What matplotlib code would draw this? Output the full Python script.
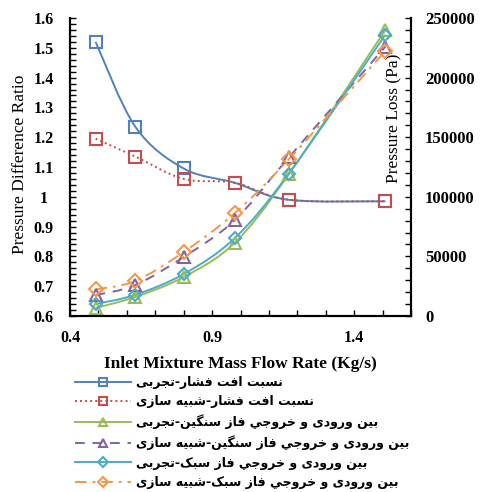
import matplotlib
matplotlib.use('Agg')
import matplotlib.pyplot as plt
import numpy as np
from matplotlib.path import Path
from matplotlib.patches import PathPatch
from matplotlib.lines import Line2D
from matplotlib.ticker import MultipleLocator, FixedLocator, FuncFormatter

# Data
flow = [0.49, 0.63, 0.80, 0.98, 1.17, 1.51]
ratio_exp = [1.52, 1.235, 1.095, 1.047, 0.99, 0.985]
ratio_sim = [1.195, 1.135, 1.06, 1.047, 0.99, 0.985]
heavy_exp = [6700, 16000, 32700, 61500, 119000, 240000]
heavy_sim = [17500, 26000, 49500, 80500, 133000, 226000]
light_exp = [10000, 17800, 35200, 65400, 119500, 236000]
light_sim = [22300, 29400, 53700, 86400, 131500, 222500]

ratio_ticks = [0.6, 0.7, 0.8, 0.9, 1.0, 1.1, 1.2, 1.3, 1.4, 1.5, 1.6]
flow_ticks = [0.4, 0.9, 1.4]

labels = ['نسبت افت فشار-تجربی',
          'نسبت افت فشار-شبیه سازی',
          'بین ورودی و خروجي فاز سنگین-تجربی',
          'بین ورودی و خروجي فاز سنگین-شبیه سازی',
          'بین ورودی و خروجي فاز سبک-تجربی',
          'بین ورودی و خروجي فاز سبک-شبیه سازی']

# presentation forms: isolated, final, initial, medial
FORMS = {
    'ا': ('\uFE8D', '\uFE8E', None, None),
    'ب': ('\uFE8F', '\uFE90', '\uFE91', '\uFE92'),
    'ت': ('\uFE95', '\uFE96', '\uFE97', '\uFE98'),
    'ج': ('\uFE9D', '\uFE9E', '\uFE9F', '\uFEA0'),
    'خ': ('\uFEA5', '\uFEA6', '\uFEA7', '\uFEA8'),
    'د': ('\uFEA9', '\uFEAA', None, None),
    'ر': ('\uFEAD', '\uFEAE', None, None),
    'ز': ('\uFEAF', '\uFEB0', None, None),
    'س': ('\uFEB1', '\uFEB2', '\uFEB3', '\uFEB4'),
    'ش': ('\uFEB5', '\uFEB6', '\uFEB7', '\uFEB8'),
    'ف': ('\uFED1', '\uFED2', '\uFED3', '\uFED4'),
    'ن': ('\uFEE5', '\uFEE6', '\uFEE7', '\uFEE8'),
    'ه': ('\uFEE9', '\uFEEA', '\uFEEB', '\uFEEC'),
    'و': ('\uFEED', '\uFEEE', None, None),
    'ي': ('\uFEF1', '\uFEF2', '\uFEF3', '\uFEF4'),
    'ی': ('\uFBFC', '\uFBFD', '\uFBFE', '\uFBFF'),
    'ک': ('\uFB8E', '\uFB8F', '\uFB90', '\uFB91'),
    'گ': ('\uFB92', '\uFB93', '\uFB94', '\uFB95'),
}


def persian(s):
    out = []
    for i, ch in enumerate(s):
        f = FORMS.get(ch)
        if f is None:
            out.append(ch)
            continue
        prev = s[i - 1] if i > 0 else ''
        nxt = s[i + 1] if i + 1 < len(s) else ''
        jp = prev in FORMS and FORMS[prev][2] is not None
        jn = f[2] is not None and nxt in FORMS
        if jp and jn:
            out.append(f[3])
        elif jp:
            out.append(f[1])
        elif jn:
            out.append(f[2])
        else:
            out.append(f[0])
    return ''.join(reversed(out))


def smooth(ax, x, y, **kw):
    # excel-like smoothed line (catmull-rom as bezier)
    pts = np.column_stack([x, y]).astype(float)
    p = np.vstack([pts[0], pts, pts[-1]])
    verts = [pts[0]]
    codes = [Path.MOVETO]
    for i in range(1, len(p) - 2):
        c1 = p[i] + (p[i + 1] - p[i - 1]) / 6
        c2 = p[i + 1] - (p[i + 2] - p[i]) / 6
        verts += [c1, c2, p[i + 1]]
        codes += [Path.CURVE4] * 3
    ax.add_patch(PathPatch(Path(verts, codes), fill=False, **kw))


serif = 'Liberation Serif'
fig = plt.figure(figsize=(4.8, 4.92), dpi=100)
ax = fig.add_axes([70 / 480, 1 - 316 / 492, 341 / 480, 298 / 492])
ax2 = ax.twinx()

styles = [
    (ax, ratio_exp, '#4F81BD', '-', 's', 8.5),
    (ax, ratio_sim, '#C0504D', (0, (1, 1.6)), 's', 8.5),
    (ax2, heavy_exp, '#9BBB59', '-', '^', 8.5),
    (ax2, heavy_sim, '#8064A2', (0, (5, 4)), '^', 8.5),
    (ax2, light_exp, '#4BACC6', '-', 'D', 6.5),
    (ax2, light_sim, '#F79646', (0, (6, 3, 1.5, 3)), 'D', 7),
]

handles = []
for (a, vals, c, ls, mk, ms), lab in zip(styles, labels):
    smooth(a, flow, vals, edgecolor=c, linestyle=ls, linewidth=1.4)
    a.plot(flow, vals, ls='none', marker=mk, ms=ms, mfc='none', mec=c, mew=1.5)
    handles.append(Line2D([], [], color=c, ls=ls, lw=1.4, marker=mk, ms=5.5,
                          mfc='none', mec=c, mew=1.5, label=persian(lab)))

ax.set_xlim(0.4, 1.6)
ax.set_ylim(0.6, 1.6)
ax2.set_ylim(0, 250000)
ax.xaxis.set_major_locator(FixedLocator(flow_ticks))
ax.xaxis.set_minor_locator(MultipleLocator(0.1))
ax.yaxis.set_major_locator(FixedLocator(ratio_ticks))
ax.yaxis.set_minor_locator(MultipleLocator(0.02))
ax.yaxis.set_major_formatter(FuncFormatter(lambda v, p: f'{v:g}'))
ax2.yaxis.set_major_locator(MultipleLocator(50000))
ax2.yaxis.set_minor_locator(MultipleLocator(10000))

for a in (ax, ax2):
    a.spines['top'].set_visible(False)
    for s in ('left', 'right', 'bottom'):
        a.spines[s].set_linewidth(1.5)
    a.tick_params(which='both', direction='in', length=4, width=1)

ax.tick_params(axis='y', which='major', pad=19)
ax.tick_params(axis='x', which='major', pad=10)
ax2.tick_params(axis='y', which='major', pad=10)
for t in ax.get_yticklabels():
    t.set_horizontalalignment('center')
for t in ax.get_xticklabels() + ax.get_yticklabels() + ax2.get_yticklabels():
    t.set_fontfamily(serif)
    t.set_fontweight('bold')
    t.set_fontsize(11.5)
for t in ax2.get_yticklabels():
    t.set_fontsize(12)

ax.set_ylabel('Pressure Difference Ratio', family=serif, fontsize=12.5)
ax.yaxis.set_label_coords(-0.122, 0.51)
ax2.set_ylabel('Pressure Loss (Pa)', family=serif, fontsize=12.5)
ax2.yaxis.set_label_coords(0.928, 0.664)
ax.set_xlabel('Inlet Mixture Mass Flow Rate (Kg/s)', family=serif,
              fontsize=12.5, fontweight='bold', labelpad=7)

fig.legend(handles=handles, loc='upper left', bbox_to_anchor=(75 / 480, 1 - 376 / 492),
           frameon=False, handlelength=4.5, handletextpad=0.4, labelspacing=0.5,
           borderpad=0, borderaxespad=0,
           prop={'family': 'DejaVu Sans', 'weight': 'bold', 'size': 9})

fig.savefig('out.png', dpi=100)
